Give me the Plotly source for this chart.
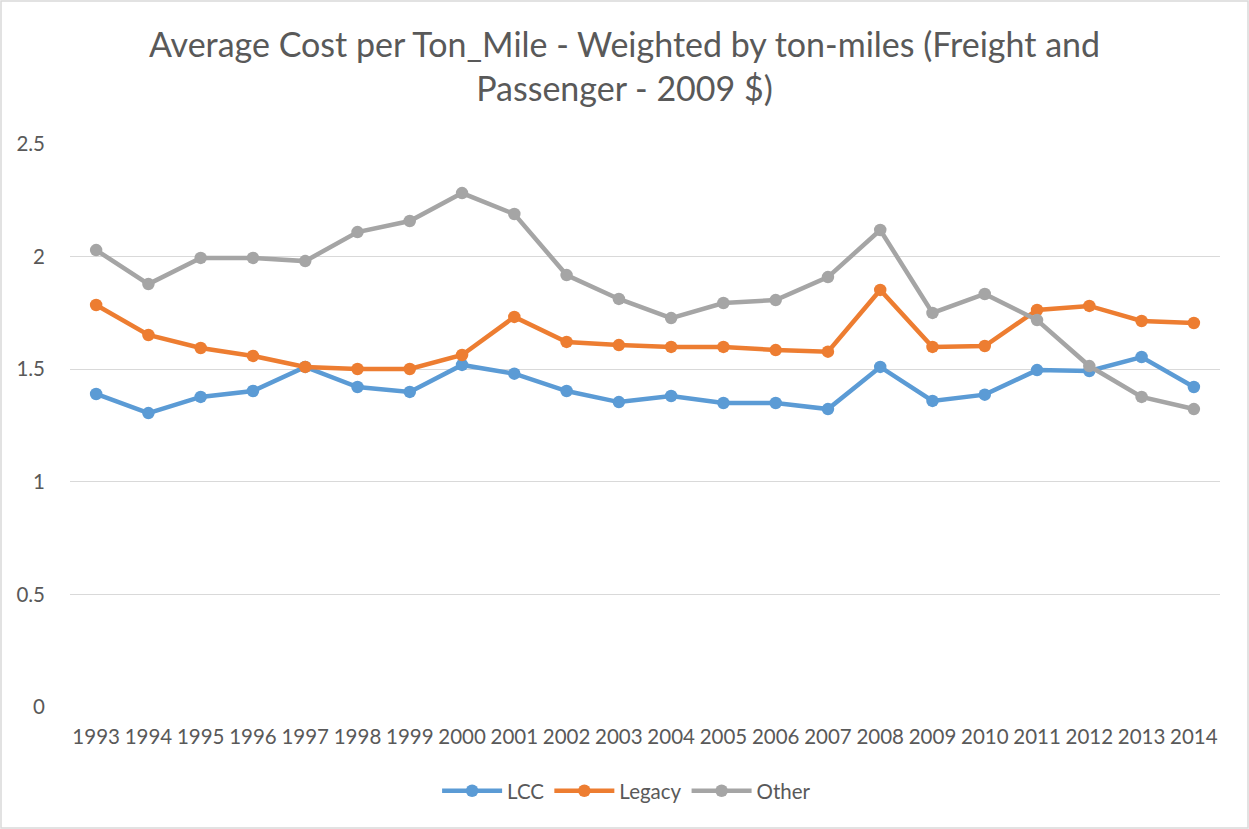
import plotly.graph_objects as go

years = [str(y) for y in range(1993, 2015)]
lcc = [1.39, 1.305, 1.377, 1.403, 1.51, 1.421, 1.399, 1.519, 1.48, 1.403, 1.354, 1.381,
       1.35, 1.35, 1.323, 1.51, 1.359, 1.387, 1.496, 1.492, 1.554, 1.421]
legacy = [1.785, 1.652, 1.594, 1.559, 1.51, 1.501, 1.501, 1.563, 1.732, 1.621, 1.607, 1.599,
          1.599, 1.585, 1.578, 1.852, 1.599, 1.603, 1.763, 1.781, 1.714, 1.705]
other = [2.029, 1.878, 1.994, 1.994, 1.98, 2.109, 2.158, 2.282, 2.189, 1.918, 1.812, 1.727,
         1.794, 1.807, 1.909, 2.118, 1.75, 1.834, 1.718, 1.514, 1.377, 1.323]

series = [("LCC", lcc, "#5B9BD5"), ("Legacy", legacy, "#ED7D31"), ("Other", other, "#A5A5A5")]

W, H = 1249, 829
ml, mr, mt, mb = 70, 29, 144, 122

fig = go.Figure()
for name, vals, col in series:
    fig.add_trace(go.Scatter(
        x=list(range(len(years))), y=vals, name=name, mode="lines+markers",
        line=dict(color=col, width=4.5), marker=dict(color=col, size=12.5),
    ))

fig.update_layout(
    width=W, height=H,
    margin=dict(l=ml, r=mr, t=mt, b=mb, autoexpand=False),
    paper_bgcolor="white", plot_bgcolor="white",
    font=dict(family="Lato, Open Sans, sans-serif", color="#595959", size=20),
    title=dict(text="Average Cost per Ton_Mile - Weighted by ton-miles (Freight and<br>Passenger - 2009 $)",
               x=0.5, xanchor="center", y=1 - 57 / H, yanchor="middle",
               font=dict(size=34, color="#595959")),
    xaxis=dict(range=[-0.5, len(years) - 0.5], tickmode="array",
               tickvals=list(range(len(years))), ticktext=years,
               showgrid=False, zeroline=False, showline=False, ticks="",
               tickfont=dict(size=20.5), ticklabelstandoff=15),
    yaxis=dict(range=[0, 2.5], dtick=0.5, tickformat="~g", showgrid=True,
               gridcolor="#D9D9D9", gridwidth=1.3, zeroline=False, showline=False,
               ticks="", tickfont=dict(size=20.5), ticklabelstandoff=24),
    legend=dict(orientation="h", x=0.484, xanchor="center", y=-0.149, yanchor="middle",
                font=dict(size=20.5), itemwidth=60, traceorder="normal"),
    shapes=[dict(type="rect", xref="paper", yref="paper",
                 x0=-(ml - 1) / (W - ml - mr), x1=1 + (mr - 1) / (W - ml - mr),
                 y0=-(mb - 1) / (H - mt - mb), y1=1 + (mt - 1) / (H - mt - mb),
                 line=dict(color="#D9D9D9", width=1.5), layer="below")],
)

fig.write_html("out.html", config={"displayModeBar": False})
with open("out.html", "r", encoding="utf-8") as f:
    html = f.read()
html = html.replace("<body>", '<body style="margin:0;padding:0;overflow:hidden">', 1)
with open("out.html", "w", encoding="utf-8") as f:
    f.write(html)
